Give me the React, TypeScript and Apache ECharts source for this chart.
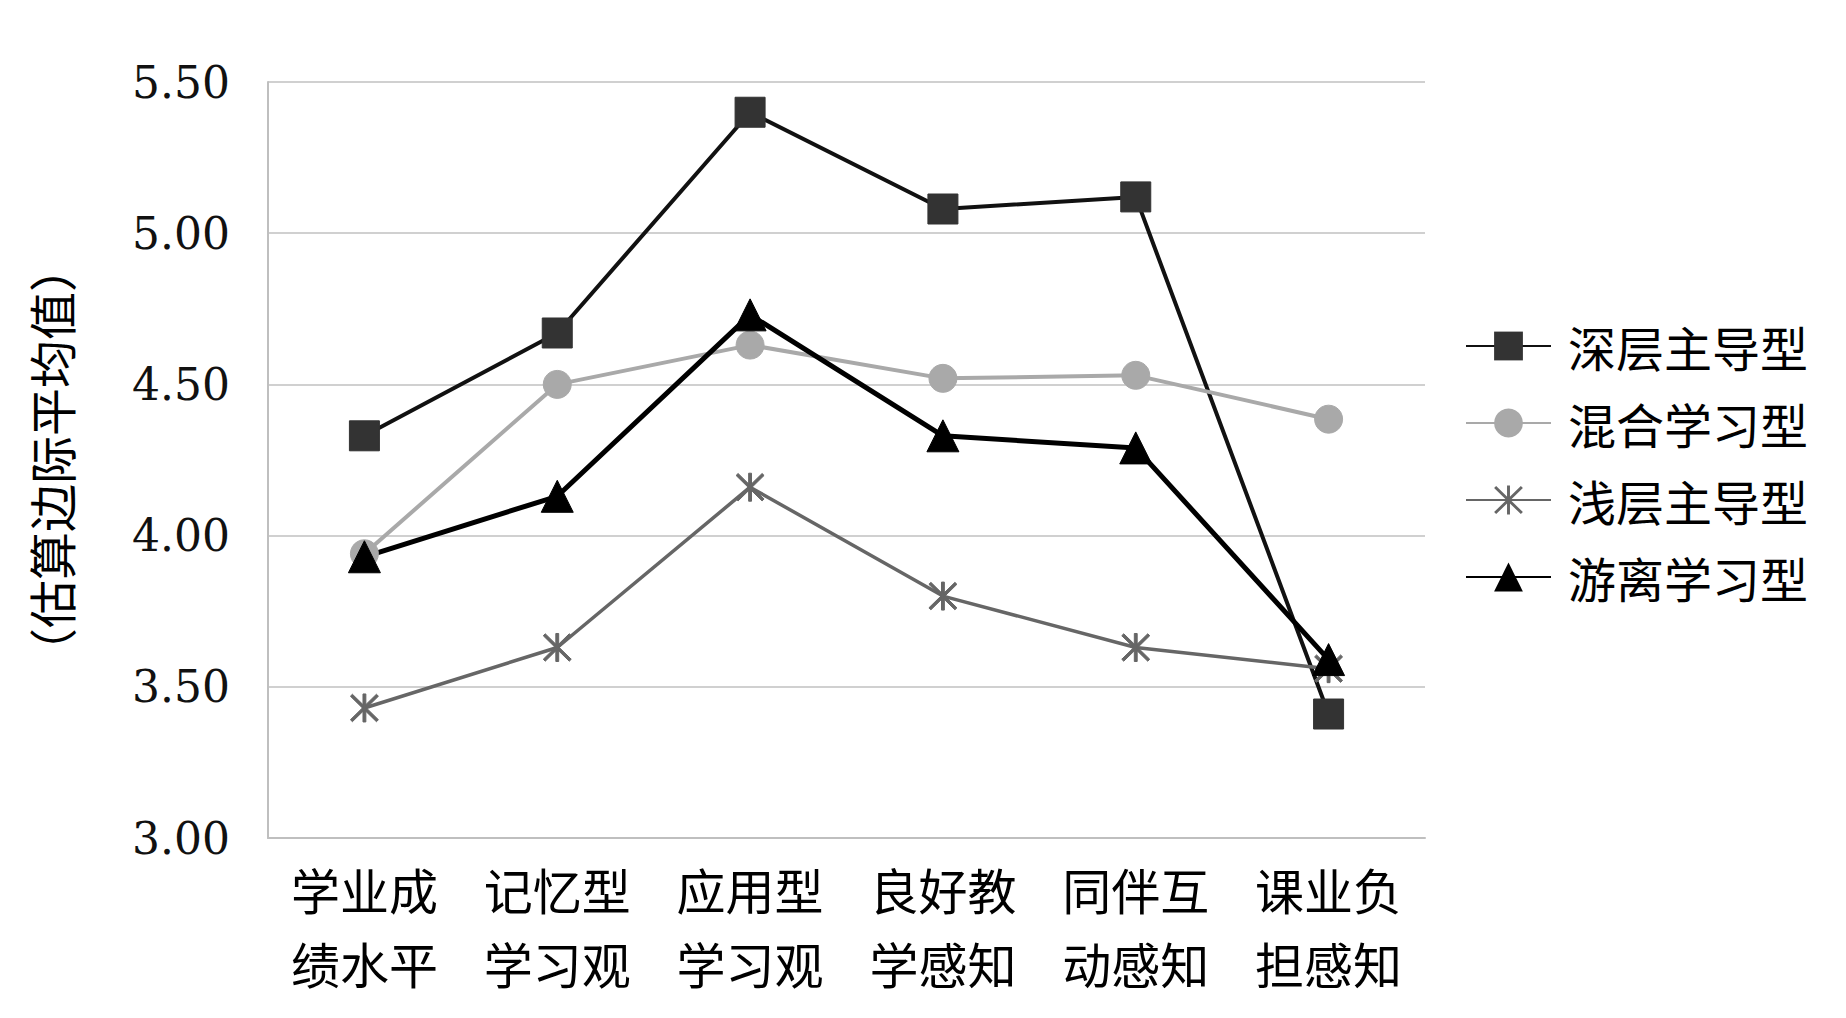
import React, { useEffect, useRef } from "react";
import * as echarts from "echarts";

const categories = ["学业成\n绩水平", "记忆型\n学习观", "应用型\n学习观", "良好教\n学感知", "同伴互\n动感知", "课业负\n担感知"];
const seriesNames = ["深层主导型", "混合学习型", "浅层主导型", "游离学习型"];
const deepValues = [4.33, 4.67, 5.4, 5.08, 5.12, 3.41];
const mixedValues = [3.94, 4.5, 4.63, 4.52, 4.53, 4.385];
const shallowValues = [3.43, 3.63, 4.16, 3.8, 3.63, 3.56];
const detachedValues = [3.93, 4.13, 4.73, 4.33, 4.29, 3.59];
const yTicks = [3.0, 3.5, 4.0, 4.5, 5.0, 5.5];
const yAxisName = "（估算边际平均值）";

const starPath =
  "path://M9 0 L11 0 L11 20 L9 20 Z M1.6 0.2 L19.8 18.4 L18.4 19.8 L0.2 1.6 Z M18.4 0.2 L19.8 1.6 L1.6 19.8 L0.2 18.4 Z";

export default function App() {
  const ref = useRef<HTMLDivElement>(null);
  useEffect(() => {
    if (!ref.current) return;
    const chart = echarts.init(ref.current, undefined, { renderer: "svg" });
    const cjk = '"Noto Sans CJK SC", sans-serif';
    const mk = (name: string, data: number[], color: string, lineColor: string, width: number, symbol: string, size: number) => ({
      name,
      type: "line",
      data,
      symbol,
      symbolSize: size,
      showSymbol: true,
      itemStyle: { color, borderColor: color },
      lineStyle: { color: lineColor, width },
    });
    chart.setOption({
      animation: false,
      backgroundColor: "#ffffff",
      grid: { left: 260, right: 413, top: 74, bottom: 172 },
      legend: {
        orient: "vertical",
        left: 1452,
        top: 307,
        itemWidth: 85,
        itemHeight: 36,
        itemGap: 25,
        data: seriesNames,
        textStyle: { fontFamily: cjk, fontSize: 48, lineHeight: 52, color: "#000", padding: [0, 0, 0, 12] },
      },
      xAxis: {
        type: "category",
        data: categories,
        boundaryGap: true,
        axisLine: { lineStyle: { color: "#bfbfbf", width: 2 } },
        axisTick: { show: false },
        axisLabel: { fontFamily: cjk, fontSize: 49, lineHeight: 74, color: "#000", margin: 13, interval: 0 },
      },
      yAxis: {
        type: "value",
        min: yTicks[0],
        max: yTicks[yTicks.length - 1],
        interval: 0.5,
        name: yAxisName,
        nameLocation: "middle",
        nameGap: 194,
        nameTextStyle: { fontFamily: cjk, fontSize: 48, color: "#000" },
        axisLine: { show: true, lineStyle: { color: "#bfbfbf", width: 2 } },
        axisTick: { show: false },
        splitLine: { lineStyle: { color: "#d0d0d0", width: 2 } },
        axisLabel: {
          fontFamily: '"DejaVu Serif", serif',
          fontSize: 44,
          color: "#111",
          margin: 38,
          formatter: (v: number) => v.toFixed(2),
        },
      },
      series: [
        mk(seriesNames[0], deepValues, "#333333", "#111111", 4, "rect", 30),
        mk(seriesNames[1], mixedValues, "#a9a9a9", "#a9a9a9", 4, "circle", 28),
        mk(seriesNames[2], shallowValues, "#666666", "#666666", 3.5, starPath, 28),
        mk(seriesNames[3], detachedValues, "#000000", "#000000", 5, "triangle", 32),
      ],
    });
    return () => chart.dispose();
  }, []);
  return <div ref={ref} style={{ width: 1830, height: 1002 }} />;
}
